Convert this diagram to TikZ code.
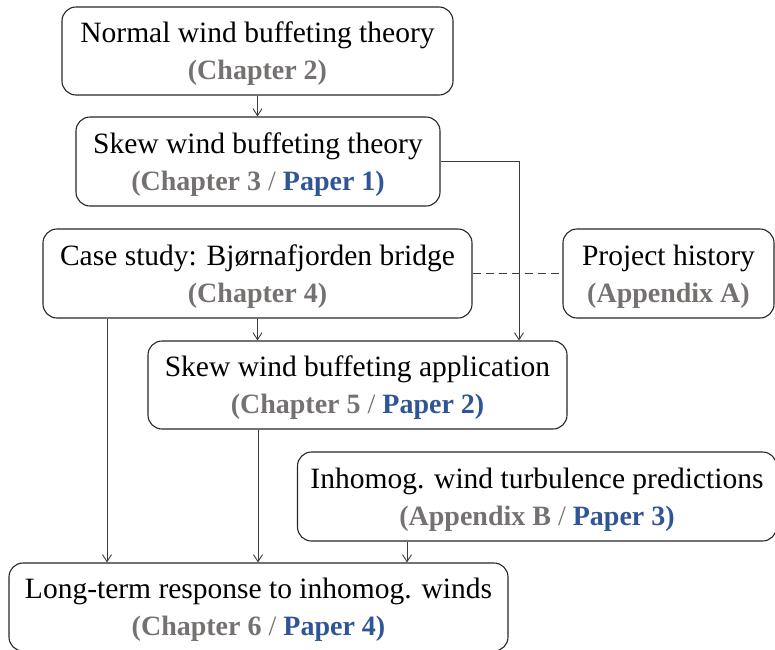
\documentclass[tikz,border=0pt]{standalone}
\usepackage{fontspec}
\setmainfont{Liberation Serif}
\usetikzlibrary{arrows.meta,calc}
\definecolor{chgray}{RGB}{118,113,113}
\definecolor{papblue}{RGB}{47,85,151}
\definecolor{linegray}{RGB}{60,60,60}
\newcommand{\gr}[1]{\textcolor{chgray}{#1}}
\newcommand{\bl}[1]{\textcolor{papblue}{#1}}
\newcommand{\slsep}{\textcolor{chgray}{\textnormal{ / }}}
\newcommand{\firstln}{\rule{0pt}{26pt}}
\newcommand{\secline}{\fontsize{28}{37}\selectfont\bfseries}
\begin{document}
\begin{tikzpicture}[x=1pt,y=-1pt,
  box/.style={draw=black!85,line width=1.1pt,rounded corners=14pt,inner sep=0pt,
    align=center,font=\fontsize{29.5}{37}\selectfont},
  conn/.style={draw=linegray,line width=0.9pt,-{Straight Barb[length=7pt,width=9pt]}},
  dconn/.style={draw=linegray,line width=0.9pt,dash pattern=on 8pt off 5pt}]
\useasboundingbox (0,0) rectangle (775,649);
\node[box,minimum width=391pt,minimum height=88pt] (B1) at (257.5,51)
  {\firstln Normal wind buffeting theory\\{\secline\gr{(Chapter 2)}}};
\node[box,minimum width=364pt,minimum height=89pt] (B2) at (258,161.5)
  {\firstln Skew wind buffeting theory\\{\secline\gr{(Chapter 3}\slsep\bl{Paper 1)}}};
\node[box,minimum width=429pt,minimum height=89pt] (B3) at (257.5,273.5)
  {\firstln Case study: Bjørnafjorden bridge\\{\secline\gr{(Chapter 4)}}};
\node[box,minimum width=211pt,minimum height=89pt] (B4) at (668.5,273.5)
  {\firstln Project history\\{\secline\gr{(Appendix A)}}};
\node[box,minimum width=419pt,minimum height=88pt] (B5) at (357.5,385)
  {\firstln Skew wind buffeting application\\{\secline\gr{(Chapter 5}\slsep\bl{Paper 2)}}};
\node[box,minimum width=479pt,minimum height=89pt] (B7) at (537,496.5)
  {\firstln Inhomog. wind turbulence predictions\\{\secline\gr{(Appendix B}\slsep\bl{Paper 3)}}};
\node[box,minimum width=499pt,minimum height=88pt] (B6) at (258.5,607)
  {\firstln Long-term response to inhomog. winds\\{\secline\gr{(Chapter 6}\slsep\bl{Paper 4)}}};
\draw[conn] (B1.south) -- (B1.south |- B2.north);
\draw[conn] (B2.east) -| ([xshift=161.5pt]B5.north);
\draw[conn] (B3.south) -- (B3.south |- B5.north);
\draw[dconn] (B3.east) -- (B4.west);
\draw[conn] ([xshift=-150.5pt]B3.south) -- ([xshift=-150.5pt]B3.south |- B6.north);
\draw[conn] ([xshift=-99.5pt]B5.south) -- ([xshift=-99.5pt]B5.south |- B6.north);
\draw[conn] ([xshift=-130pt]B7.south) -- ([xshift=-130pt]B7.south |- B6.north);
\end{tikzpicture}
\end{document}
